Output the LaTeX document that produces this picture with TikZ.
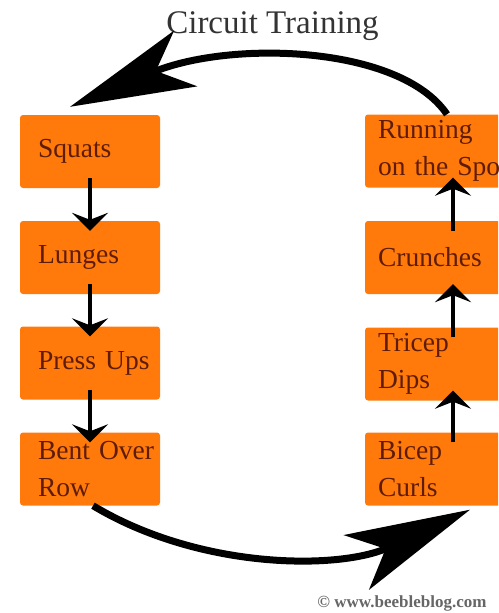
\documentclass[tikz,border=0pt]{standalone}
\usepackage{fontspec}
\setmainfont{Liberation Serif}
\usetikzlibrary{arrows.meta}
\definecolor{cardorange}{RGB}{255,122,10}
\definecolor{cardtext}{RGB}{95,28,5}
\begin{document}
\begin{tikzpicture}[x=1pt,y=-1pt,
  card/.style={fill=cardorange,rounded corners=3pt,text=cardtext,font=\fontsize{27.5}{37}\selectfont,align=left,minimum height=73pt,inner ysep=2pt},
  leftcard/.style={card,text width=104pt,inner xsep=18pt},
  rightcard/.style={card,text width=150pt,inner xsep=13pt},
  flow/.style={-{Stealth[length=18pt,width=36pt,inset=7pt]},line width=4.5pt,shorten <=-10pt,shorten >=-10pt},
  roundarrow/.style={-{Stealth[length=125pt,width=60pt,inset=32pt]},line width=7pt}]
\useasboundingbox (0,0) rectangle (498,613);
\clip (0,0) rectangle (498,613);
\node[anchor=base,font=\fontsize{33}{40}\selectfont,text=black!80] (title) at (272.5,33) {Circuit Training};
\node[leftcard] (sq) at (90,151.5) {Squats};
\node[leftcard] (lu) at (90,257.5) {Lunges};
\node[leftcard] (pu) at (90,363) {Press~Ups};
\node[leftcard] (bo) at (90,469) {Bent~Over\\Row};
\node[rightcard] (ru) at (453,151) {Running\\on the Spot};
\node[rightcard] (cr) at (453,257.5) {Crunches};
\node[rightcard] (td) at (453,364) {Tricep\\Dips};
\node[rightcard] (bc) at (453,469) {Bicep\\Curls};
\foreach \a/\b in {sq/lu,lu/pu,pu/bo}
  \draw[flow] (\a.south) -- (\b.north);
\foreach \a/\b in {bc/td,td/cr,cr/ru}
  \draw[flow] (\a.north) -- (\b.south);
\draw[roundarrow] ([xshift=-6pt]ru.north) .. controls (400,45) and (230,40) .. ([xshift=-20pt,yshift=8pt]sq.north);
\draw[roundarrow] ([xshift=3pt]bo.south) .. controls (200,570) and (340,570) .. ([xshift=17pt,yshift=-4pt]bc.south);
\node[anchor=base east,font=\bfseries\fontsize{17}{19}\selectfont,text=black!60] (credit) at (490,607) {© www.beebleblog.com};
\end{tikzpicture}
\end{document}
